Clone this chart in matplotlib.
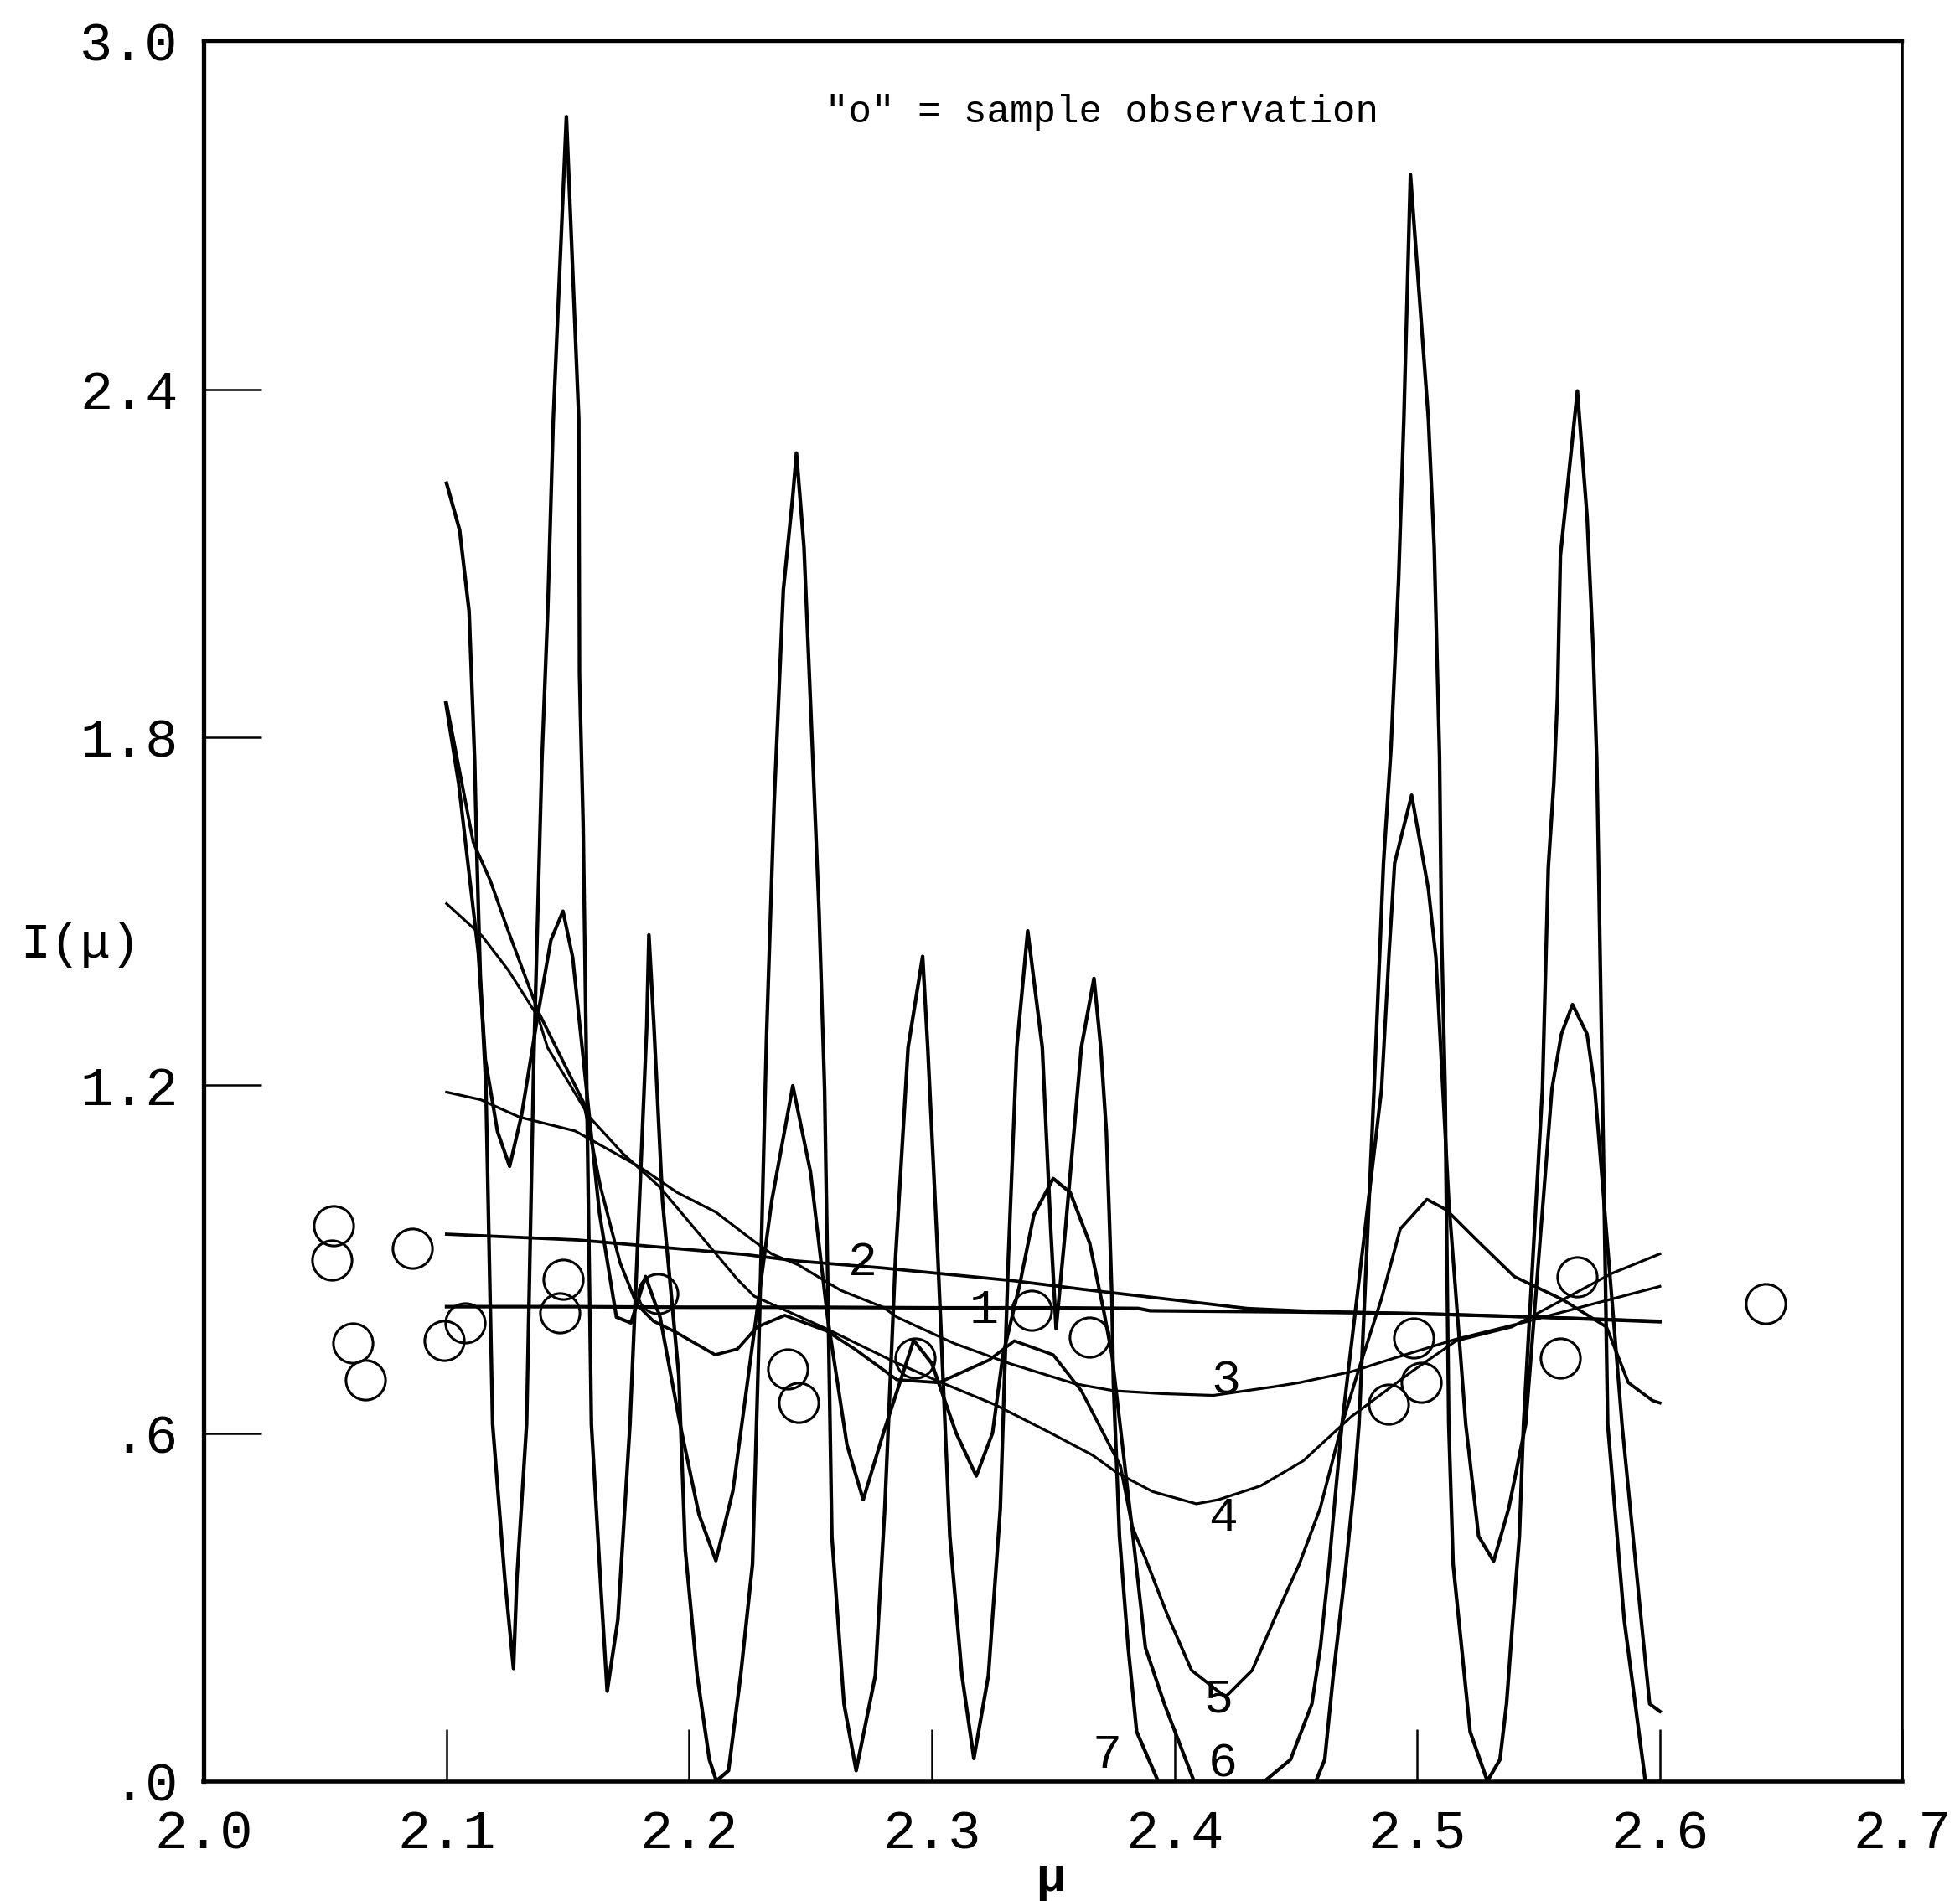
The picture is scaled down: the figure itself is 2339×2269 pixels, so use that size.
import matplotlib
matplotlib.use("Agg")
import matplotlib.pyplot as plt

# Curves I(mu) (curve number = smoothing order)
mu_1 = [2.10, 2.15, 2.20, 2.25, 2.30, 2.35, 2.385, 2.39, 2.45, 2.50, 2.55, 2.60]
I_1 = [0.818, 0.818, 0.817, 0.817, 0.816, 0.816, 0.815, 0.811, 0.809, 0.806, 0.800, 0.792]

mu_2 = [2.10, 2.154, 2.223, 2.244, 2.279, 2.333, 2.366, 2.395, 2.43, 2.456, 2.50, 2.55, 2.60]
I_2 = [0.943, 0.933, 0.908, 0.897, 0.885, 0.863, 0.846, 0.832, 0.815, 0.810, 0.806, 0.800, 0.793]

mu_3 = [2.10, 2.114, 2.130, 2.153, 2.180, 2.195, 2.211, 2.226, 2.234, 2.245,
        2.2625, 2.280, 2.2856, 2.309, 2.332, 2.359, 2.375, 2.395, 2.416, 2.441,
        2.4514, 2.473, 2.488, 2.516, 2.544, 2.57, 2.60]
I_3 = [1.188, 1.175, 1.145, 1.121, 1.058, 1.015, 0.981, 0.933, 0.909, 0.890,
       0.846, 0.817, 0.800, 0.755, 0.720, 0.685, 0.673, 0.668, 0.665, 0.680,
       0.687, 0.706, 0.726, 0.762, 0.791, 0.820, 0.853]

mu_4 = [2.10, 2.1147, 2.1255, 2.1378, 2.1416, 2.1589, 2.1727, 2.1877, 2.2038, 2.2199,
        2.2268, 2.257, 2.2855, 2.304, 2.326, 2.349, 2.3662, 2.3765, 2.391, 2.409,
        2.418, 2.4355, 2.453, 2.473, 2.4977, 2.516, 2.539, 2.56, 2.58, 2.60]
I_4 = [1.513, 1.457, 1.398, 1.317, 1.265, 1.145, 1.082, 1.025, 0.945, 0.865,
       0.836, 0.779, 0.721, 0.687, 0.649, 0.600, 0.562, 0.531, 0.499, 0.478,
       0.485, 0.509, 0.552, 0.629, 0.706, 0.759, 0.783, 0.830, 0.875, 0.909]

mu_5 = [2.100, 2.111, 2.118, 2.1255, 2.138, 2.1566, 2.1635, 2.1715, 2.1784, 2.1853,
        2.1945, 2.2107, 2.2199, 2.228, 2.2394, 2.2567, 2.2682, 2.2856, 2.3029, 2.3236,
        2.334, 2.350, 2.3616, 2.3777, 2.3826, 2.388, 2.397, 2.407, 2.421, 2.432,
        2.441, 2.4514, 2.460, 2.469, 2.476, 2.4853, 2.493, 2.504, 2.512, 2.524,
        2.540, 2.560, 2.578, 2.587, 2.597, 2.600]
I_5 = [1.859, 1.619, 1.553, 1.465, 1.325, 1.169, 1.024, 0.894, 0.822, 0.793,
       0.774, 0.735, 0.745, 0.783, 0.803, 0.776, 0.745, 0.692, 0.687, 0.726,
       0.759, 0.735, 0.673, 0.543, 0.438, 0.384, 0.287, 0.191, 0.145, 0.191,
       0.278, 0.374, 0.470, 0.615, 0.711, 0.832, 0.952, 1.003, 0.985, 0.935,
       0.870, 0.830, 0.783, 0.687, 0.656, 0.652]

mu_6 = [2.0997, 2.1050, 2.1131, 2.1160, 2.1210, 2.1260, 2.1310, 2.1380, 2.1430, 2.1480,
        2.1520, 2.1570, 2.1630, 2.1700, 2.1760, 2.1820, 2.1880, 2.1960, 2.2040, 2.2110,
        2.2180, 2.2260, 2.2340, 2.2427, 2.2500, 2.2570, 2.2650, 2.2717, 2.2800, 2.2925,
        2.3000, 2.3100, 2.3183, 2.3250, 2.3293, 2.3362, 2.3420, 2.3500, 2.3570, 2.3650,
        2.3710, 2.3742, 2.3826, 2.3880, 2.3958, 2.4080, 2.4372, 2.4478, 2.4566, 2.4601,
        2.4637, 2.4663, 2.4690, 2.4853, 2.4884, 2.4907, 2.4977, 2.5046, 2.5077, 2.5130,
        2.5200, 2.5253, 2.5315, 2.5377, 2.5447, 2.5555, 2.5594, 2.5640, 2.5700, 2.5732,
        2.5844, 2.5923, 2.5958, 2.6000]
I_6 = [1.859, 1.720, 1.428, 1.244, 1.120, 1.060, 1.150, 1.330, 1.450, 1.500,
       1.420, 1.220, 0.980, 0.800, 0.790, 0.870, 0.800, 0.620, 0.460, 0.380,
       0.500, 0.750, 1.000, 1.199, 1.050, 0.800, 0.580, 0.485, 0.600, 0.760,
       0.720, 0.600, 0.526, 0.600, 0.735, 0.856, 0.976, 1.039, 1.015, 0.928,
       0.807, 0.735, 0.432, 0.230, 0.133, 0.000, 0.000, 0.037, 0.133, 0.230,
       0.374, 0.495, 0.615, 1.193, 1.428, 1.583, 1.700, 1.538, 1.420, 1.000,
       0.615, 0.422, 0.379, 0.470, 0.615, 1.193, 1.288, 1.339, 1.288, 1.193,
       0.615, 0.278, 0.133, 0.120]

mu_7 = [2.100, 2.1054, 2.1093, 2.1116, 2.1124, 2.1139, 2.1162, 2.1190, 2.1240, 2.1276,
        2.1290, 2.1330, 2.1360, 2.1393, 2.1417, 2.1440, 2.1494, 2.1545, 2.1548, 2.1563,
        2.1578, 2.1597, 2.1637, 2.1662, 2.1706, 2.1756, 2.1795, 2.1825, 2.1834, 2.1855,
        2.1890, 2.1957, 2.1984, 2.2033, 2.2083, 2.2112, 2.2162, 2.2212, 2.2261, 2.2290,
        2.2319, 2.2350, 2.2388, 2.2427, 2.2442, 2.2473, 2.2504, 2.2535, 2.2558, 2.2588,
        2.2638, 2.2688, 2.2767, 2.2806, 2.2850, 2.2902, 2.2962, 2.2983, 2.3025, 2.3074,
        2.3124, 2.3173, 2.3233, 2.3282, 2.3315, 2.3350, 2.3395, 2.3455, 2.3490, 2.3512,
        2.3550, 2.3616, 2.3668, 2.3696, 2.3719, 2.3731, 2.3742, 2.3748, 2.3773, 2.3809,
        2.3844, 2.3932, 2.4583, 2.4619, 2.4654, 2.4707, 2.4742, 2.4760, 2.4822, 2.4861,
        2.4892, 2.4923, 2.4945, 2.4972, 2.5046, 2.5070, 2.5092, 2.5100, 2.5115, 2.5130,
        2.5148, 2.5183, 2.5218, 2.5289, 2.5341, 2.5368, 2.5394, 2.5421, 2.5438, 2.5516,
        2.5540, 2.5563, 2.5578, 2.5590, 2.5660, 2.5700, 2.5725, 2.5740, 2.5755, 2.5763,
        2.5785, 2.5853, 2.5940, 2.6000]
I_7 = [2.238, 2.157, 2.017, 1.759, 1.612, 1.391, 1.200, 0.615, 0.350, 0.194,
       0.350, 0.615, 1.250, 1.759, 2.017, 2.349, 2.870, 2.349, 1.907, 1.649,
       1.193, 0.615, 0.326, 0.155, 0.278, 0.615, 1.000, 1.300, 1.459, 1.300,
       1.000, 0.700, 0.398, 0.182, 0.037, 0.000, 0.018, 0.182, 0.374, 0.800,
       1.288, 1.686, 2.054, 2.216, 2.290, 2.128, 1.818, 1.501, 1.193, 0.422,
       0.133, 0.018, 0.182, 0.470, 0.900, 1.265, 1.422, 1.265, 0.900, 0.422,
       0.182, 0.039, 0.182, 0.470, 0.900, 1.265, 1.466, 1.265, 0.950, 0.780,
       0.950, 1.265, 1.384, 1.265, 1.120, 0.976, 0.832, 0.687, 0.422, 0.230,
       0.085, 0.000, 0.000, 0.037, 0.182, 0.374, 0.519, 0.615, 1.193, 1.583,
       1.781, 2.069, 2.350, 2.770, 2.349, 2.128, 1.767, 1.465, 1.193, 0.615,
       0.374, 0.230, 0.085, 0.000, 0.037, 0.133, 0.278, 0.422, 0.615, 1.193,
       1.575, 1.722, 1.870, 2.113, 2.397, 2.180, 1.951, 1.760, 1.391, 1.193,
       0.615, 0.278, 0.000, 0.000]

# sample observations ("o")
obs_mu = [2.0536, 2.0526, 2.086, 2.0613, 2.0665, 2.099, 2.1077, 2.148, 2.1465, 2.187,
          2.2406, 2.2452, 2.293, 2.341, 2.365, 2.4984, 2.5015, 2.488, 2.559, 2.566, 2.6435]
obs_I = [0.957, 0.899, 0.918, 0.755, 0.692, 0.760, 0.790, 0.865, 0.808, 0.840,
         0.711, 0.653, 0.730, 0.812, 0.765, 0.764, 0.687, 0.650, 0.730, 0.870, 0.823]

x_ticks = [2.0, 2.1, 2.2, 2.3, 2.4, 2.5, 2.6, 2.7]
x_labels = ["2.0", "2.1", "2.2", "2.3", "2.4", "2.5", "2.6", "2.7"]
y_ticks = [0.0, 0.6, 1.2, 1.8, 2.4, 3.0]
y_labels = [".0", ".6", "1.2", "1.8", "2.4", "3.0"]

mono = ["Liberation Mono", "DejaVu Sans Mono"]

fig = plt.figure(figsize=(23.39, 22.69), dpi=100)
ax = fig.add_axes([0.104, 0.0631, 0.8667, 0.9152])

curves = [(mu_1, I_1, 3.0), (mu_2, I_2, 2.7), (mu_3, I_3, 2.3), (mu_4, I_4, 2.3),
          (mu_5, I_5, 2.7), (mu_6, I_6, 3.0), (mu_7, I_7, 3.1)]
for mu, vals, lw in curves:
    ax.plot(mu, vals, color="black", lw=lw, solid_joinstyle="round", zorder=3)

ax.plot(obs_mu, obs_I, linestyle="none", marker="o", ms=34, mfc="none",
        mec="black", mew=2.2, zorder=4)

# curve numbers
for txt, x, y in [("1", 2.3215, 0.812), ("2", 2.2715, 0.894), ("3", 2.421, 0.690),
                  ("4", 2.420, 0.453), ("5", 2.418, 0.140), ("6", 2.420, 0.030),
                  ("7", 2.372, 0.045)]:
    ax.text(x, y, txt, fontsize=42, family=mono, ha="center", va="center", zorder=5)

ax.text(2.256, 2.877, '"o" = sample observation', fontsize=33, family=mono,
        va="center", ha="left")

ax.set_xlim(2.0, 2.7)
ax.set_ylim(0.0, 3.0)
ax.set_xticks(x_ticks)
ax.set_xticklabels(x_labels, family=mono, fontsize=47)
ax.set_yticks(y_ticks)
ax.set_yticklabels(y_labels, family=mono, fontsize=47)
ax.tick_params(axis="x", direction="in", length=45, width=1.8, pad=24)
ax.tick_params(axis="y", direction="in", length=50, width=1.8, pad=22)

for side, w in [("left", 3.8), ("bottom", 4.0), ("top", 3.2), ("right", 2.6)]:
    ax.spines[side].set_linewidth(w)

fig.text(0.041, 0.503, "I(\u03bc)", fontsize=43, family=mono, ha="center", va="center")
fig.text(0.536, 0.012, "\u03bc", fontsize=42, family=mono, fontweight="bold",
         ha="center", va="center")

fig.savefig("out.png", dpi=100)
